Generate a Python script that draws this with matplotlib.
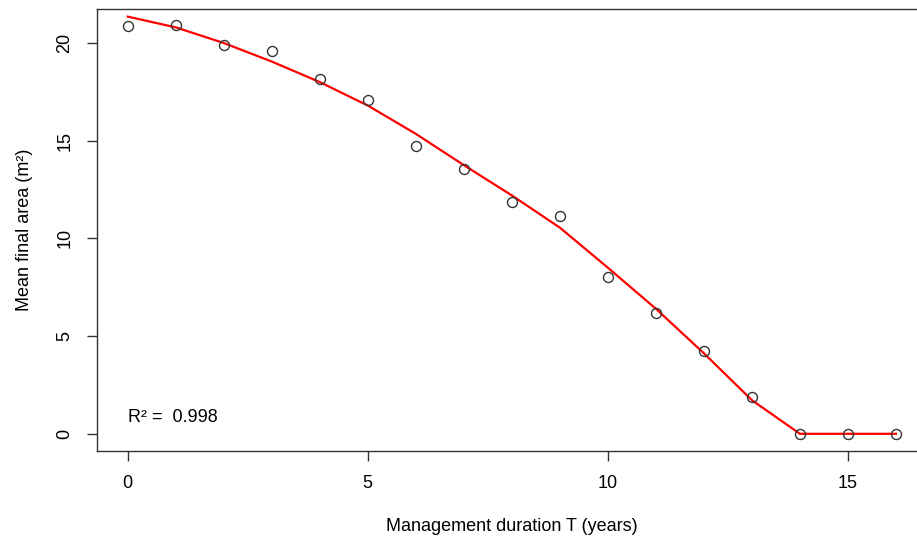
import numpy as np
import matplotlib.pyplot as plt

plt.rcParams['font.family'] = ['Liberation Sans', 'DejaVu Sans']

# observed means per management duration
years = list(range(17))
mean_area = [20.85, 20.92, 19.88, 19.6, 18.18, 17.08, 14.75, 13.55, 11.88,
             11.13, 8.0, 6.2, 4.22, 1.9, 0.0, 0.0, 0.0]
# fitted curve
fitted = [21.35, 20.8, 20.0, 19.05, 18.0, 16.8, 15.35, 13.75, 12.2,
          10.55, 8.5, 6.4, 4.12, 1.72, 0.0, 0.0, 0.0]
r2_text = "R\u00b2 =  0.998"

W, H = 917, 542
fig = plt.figure(figsize=(W / 100, H / 100), dpi=100)
ax = fig.add_axes([97 / W, 1 - 451 / H, (926.7 - 97) / W, (451 - 9) / H])

ax.plot(years, fitted, color="red", lw=1.6, zorder=2)
ax.plot(years, mean_area, ls="none", marker="o", ms=7.2, mfc="none",
        mec="#333333", mew=1.0, zorder=3)

ax.set_xlim(-0.64, 16.64)
ax.set_ylim(-0.88, 21.74)
ax.set_xticks([0, 5, 10, 15])
ax.set_yticks([0, 5, 10, 15, 20])
ax.tick_params(direction="out", length=7, width=1, color="#333333",
               labelsize=13, pad=10)
for lab in ax.get_yticklabels():
    lab.set_rotation(90)
    lab.set_va("center")
for s in ax.spines.values():
    s.set_color("#333333")
    s.set_linewidth(1)

ax.text(0, 0.85, r2_text, fontsize=13, ha="left", va="center")

ax.set_xlabel("Management duration T (years)", fontsize=13, labelpad=19)
ax.set_ylabel("Mean final area (m\u00b2)", fontsize=13, labelpad=17)

fig.savefig("out.png", dpi=100)
